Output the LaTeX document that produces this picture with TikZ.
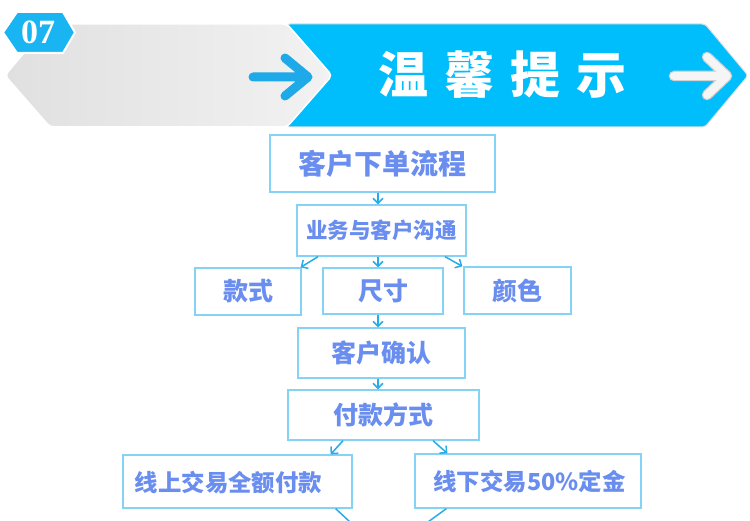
\documentclass[tikz,border=0pt]{standalone}
\usepackage{fontspec}
\newfontfamily\cjk{Noto Sans CJK SC}
\newfontfamily\lserif{Liberation Serif}
\usetikzlibrary{arrows.meta}
\definecolor{barblue}{HTML}{00BEFC}
\definecolor{badgeblue}{HTML}{19B4F2}
\definecolor{greyarrow}{HTML}{1EA9E8}
\definecolor{boxline}{HTML}{84D2F6}
\definecolor{txtblue}{HTML}{6A8EF0}
\definecolor{arrblue}{HTML}{28ABE8}
\definecolor{greyL}{HTML}{E0E0E0}
\definecolor{greyR}{HTML}{F2F2F2}
\begin{document}
\begin{tikzpicture}[x=1pt,y=-1pt,
  box/.style={draw=boxline,line width=1.3pt,fill=white,inner sep=0pt,font=\cjk\bfseries,text=txtblue},
  arr/.style={draw=arrblue,line width=1.5pt,-{Straight Barb[length=5pt,width=10pt]}}]
\useasboundingbox (0,0) rectangle (750,521);
\fill[white] (0,0) rectangle (750,521);
% banner blue part
\path[fill=barblue,draw=black!12,line width=1pt,rounded corners=3pt]
  (287,24) -- (705,24) -- (748,75.5) -- (705,127) -- (287,127) -- cycle;
% grey part
\path[left color=greyL,right color=greyR,draw=white,line width=1.5pt,rounded corners=4pt]
  (48,24) -- (287,24) -- (332,75.5) -- (287,127) -- (50,127) -- (5,75.5) -- cycle;
% arrow on grey
\draw[greyarrow,line width=9pt,line cap=round,line join=round]
  (253,77) -- (305,77) (285,58) -- (308,77) -- (285,96);
% white arrow on blue
\draw[black!18,line width=10.5pt,line cap=round,line join=round]
  (674,76) -- (724,76) (707,57) -- (727,76) -- (707,95);
\draw[black!4,line width=8pt,line cap=round,line join=round]
  (674,76) -- (724,76) (707,57) -- (727,76) -- (707,95);
% badge
\path[fill=badgeblue,draw=white,line width=2pt]
  (3,32.5) -- (17,12) -- (63,12) -- (75,32.5) -- (63,53) -- (17,53) -- cycle;
\node[font=\lserif\bfseries\fontsize{34}{34}\selectfont,text=white,inner sep=0pt] (num) at (38,32) {07};
% title
\node[font=\cjk\bfseries\fontsize{50}{50}\selectfont,text=white,inner sep=0pt] (title) at (502,75)
  {温\hspace{16pt}馨\hspace{16pt}提\hspace{16pt}示};
% flow boxes
\node[box,minimum width=225pt,minimum height=57pt,font=\cjk\bfseries\fontsize{28}{28}\selectfont] (b1) at (382.5,163.5) {客户下单流程};
\node[box,minimum width=169pt,minimum height=51pt,font=\cjk\bfseries\fontsize{21.5}{22}\selectfont] (b2) at (381.5,230.5) {业务与客户沟通};
\node[box,minimum width=106pt,minimum height=47pt,font=\cjk\bfseries\fontsize{25}{25}\selectfont] (b3) at (248,291.5) {款式};
\node[box,minimum width=120pt,minimum height=46pt,font=\cjk\bfseries\fontsize{25}{25}\selectfont] (b4) at (383,291) {尺寸};
\node[box,minimum width=107pt,minimum height=47pt,font=\cjk\bfseries\fontsize{25}{25}\selectfont] (b5) at (517.5,290.5) {颜色};
\node[box,minimum width=167pt,minimum height=50pt,font=\cjk\bfseries\fontsize{25}{25}\selectfont] (b6) at (381.5,353) {客户确认};
\node[box,minimum width=191pt,minimum height=50pt,font=\cjk\bfseries\fontsize{25}{25}\selectfont] (b7) at (383.5,415) {付款方式};
\node[box,minimum width=229pt,minimum height=53pt] (b8) at (237.5,481.5) {};
\node[font=\cjk\bfseries\fontsize{23.4}{24}\selectfont,text=txtblue,inner sep=0pt] (t8) at (228.5,482.5) {线上交易全额付款};
\node[box,minimum width=226pt,minimum height=54pt] (b9) at (528,481) {};
\node[font=\cjk\bfseries\fontsize{23.4}{24}\selectfont,text=txtblue,inner sep=0pt] (t9) at (529.5,482) {线下交易50\%定金};
% free ends
\coordinate (o8) at (350,522);
\coordinate (o9) at (428,522);
% connectors
\draw[arr] ([xshift=-4.5pt]b1.south) -- ([xshift=-3.5pt]b2.north);
\draw[arr] ([xshift=-63.5pt]b2.south) -- ([xshift=-1pt]b3.north east);
\draw[arr] ([xshift=-3.5pt]b2.south) -- ([xshift=-5pt]b4.north);
\draw[arr] ([xshift=63.5pt]b2.south) -- ([xshift=-1pt]b5.north west);
\draw[arr] ([xshift=-5pt]b4.south) -- ([xshift=-3.5pt]b6.north);
\draw[arr] ([xshift=-3.5pt]b6.south) -- ([xshift=-5.5pt]b7.north);
\draw[arr] ([xshift=-40.5pt]b7.south) -- ([xshift=-22pt]b8.north east);
\draw[arr] ([xshift=49.5pt]b7.south) -- ([xshift=33pt]b9.north west);
\draw[draw=arrblue,line width=1.5pt] ([xshift=-17pt]b8.south east) -- (o8);
\draw[draw=arrblue,line width=1.5pt] ([xshift=32pt]b9.south west) -- (o9);
\end{tikzpicture}
\end{document}
